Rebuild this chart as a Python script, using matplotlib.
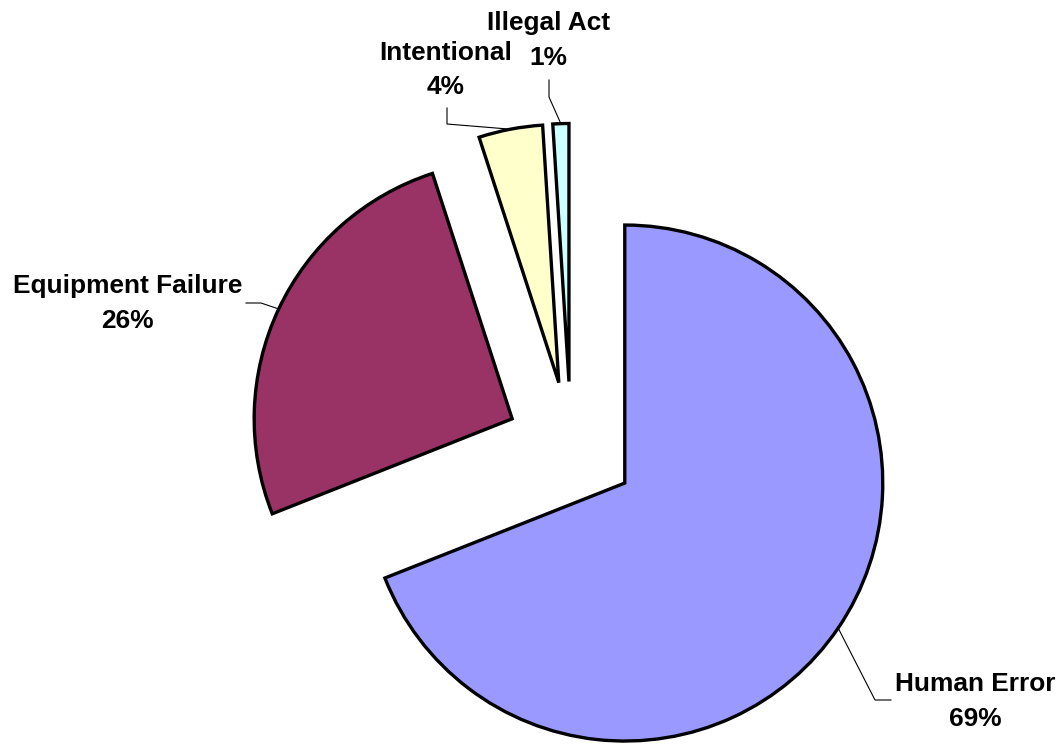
import numpy as np
import matplotlib
matplotlib.use("Agg")
import matplotlib.pyplot as plt

categories = ["Human Error", "Equipment Failure", "Intentional", "Illegal Act"]
shares = [69, 26, 4, 1]
colors = ["#9999FF", "#993366", "#FFFFCC", "#CCFFFF"]

# label layout in pixel space (y measured from bottom): x centre, baseline of name, baseline of value
label_pos = [(975, 53, 18), (127.5, 451, 416), (446, 684, 650), (548.5, 714, 679)]
elbows = [[(875, 44), (891, 44)],
          [(261, 441), (246, 441)],
          [(447, 620), (447, 636)],
          [(549, 647), (549, 664)]]

W, H = 1062, 744
RADIUS = 258
fig = plt.figure(figsize=(W / 100, H / 100), dpi=100)
ax = fig.add_axes([0, 0, 1, 1])

# matplotlib's explode offset is in data units, so scale by radius
wedges, _ = ax.pie(
    shares,
    colors=colors,
    startangle=90,
    counterclock=False,
    explode=[0.252 * RADIUS] * len(shares),
    radius=RADIUS,
    center=(571, 297.5),
    wedgeprops=dict(edgecolor="black", linewidth=2.4),
)
ax.set_xlim(0, W)
ax.set_ylim(0, H)
ax.set_aspect("equal")
ax.axis("off")

font = dict(fontsize=18.9, fontweight="bold", family="Liberation Sans",
            ha="center", va="baseline")
for w, name, val, pos, elb in zip(wedges, categories, shares, label_pos, elbows):
    mid = np.deg2rad((w.theta1 + w.theta2) / 2)
    cx, cy = w.center
    anchor = (cx + w.r * np.cos(mid), cy + w.r * np.sin(mid))
    pts = [anchor] + elb
    ax.plot([p[0] for p in pts], [p[1] for p in pts], color="black", linewidth=0.8)
    ax.text(pos[0], pos[1], name, **font)
    ax.text(pos[0], pos[2], f"{val}%", **font)

fig.savefig("out.png", dpi=100)
